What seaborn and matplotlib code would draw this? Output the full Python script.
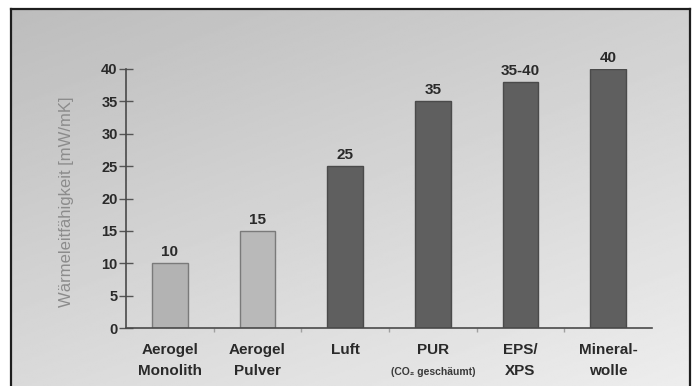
import numpy as np
import matplotlib
matplotlib.use("Agg")
import matplotlib.pyplot as plt
import seaborn as sns

# Thermal conductivity of insulation materials [mW/mK]
materials = ["Aerogel\nMonolith", "Aerogel\nPulver", "Luft", "PUR", "EPS/\nXPS", "Mineral-\nwolle"]
conductivity = [10, 15, 25, 35, 38, 40]
value_labels = ["10", "15", "25", "35", "35-40", "40"]
bar_colors = ["#b3b3b3", "#b9b9b9", "#5f5f5f", "#5f5f5f", "#5f5f5f", "#5f5f5f"]
edge_colors = ["#7a7a7a", "#7a7a7a", "#4a4a4a", "#4a4a4a", "#4a4a4a", "#4a4a4a"]
y_ticks = [0, 5, 10, 15, 20, 25, 30, 35, 40]
y_label = "Wärmeleitfähigkeit [mW/mK]"
pur_note = "(CO\u2082 geschäumt)"

sns.set_theme(style="white")
plt.rcParams["font.family"] = ["Liberation Sans", "DejaVu Sans"]

W, H = 697, 386
fig = plt.figure(figsize=(W / 100, H / 100), dpi=100)
fig.patch.set_facecolor("white")

# framed panel with a soft grey gradient
bg = fig.add_axes([11 / W, 0, (690 - 11) / W, (386 - 9) / H])
yy, xx = np.mgrid[0:1:200j, 0:1:300j]
grad = 0.74 + 0.19 * (0.4 * xx + 0.6 * yy)
bg.imshow(grad, cmap="gray", vmin=0, vmax=1, aspect="auto",
          extent=[0, 1, 0, 1], origin="upper")
bg.set_xticks([])
bg.set_yticks([])
for side in ["left", "top", "right"]:
    bg.spines[side].set_color("#1e1e1e")
    bg.spines[side].set_linewidth(1.6)
bg.spines["bottom"].set_visible(False)

# chart area
ax = fig.add_axes([126 / W, (H - 328) / H, (652 - 126) / W, (328 - 69) / H])
ax.set_facecolor("none")
sns.barplot(x=materials, y=conductivity, hue=materials, palette=bar_colors,
            legend=False, width=0.41, saturation=1, ax=ax)
for patch, ec in zip(ax.patches, edge_colors):
    patch.set_edgecolor(ec)
    patch.set_linewidth(1.0)

ax.set_ylim(0, 40)
ax.set_xlim(-0.5, 5.5)
ax.set_yticks(y_ticks)
ax.set_yticklabels([str(t) for t in y_ticks], fontsize=10.5, fontweight="bold", color="#2a2a2a")
ax.tick_params(axis="y", direction="inout", length=10, width=1, color="#555555", pad=1, left=True)
ax.tick_params(axis="x", length=0, pad=11)
ax.set_xticks(range(len(materials)))
ax.set_xticklabels(materials, fontsize=11, fontweight="bold", color="#2a2a2a", linespacing=1.6)
ax.set_xticks(np.arange(0.5, 5.5, 1.0), minor=True)
ax.tick_params(axis="x", which="minor", direction="out", length=3, color="#a0a0a0", bottom=True)
ax.set_xlabel("")
ax.set_ylabel("")
for side in ["top", "right"]:
    ax.spines[side].set_visible(False)
for side in ["left", "bottom"]:
    ax.spines[side].set_color("#4a4a4a")
    ax.spines[side].set_linewidth(1.2)

for i, (v, lab) in enumerate(zip(conductivity, value_labels)):
    ax.annotate(lab, (i, v), xytext=(0, 3), textcoords="offset points",
                ha="center", va="bottom", fontsize=11, fontweight="bold",
                color="#2a2a2a", annotation_clip=False)

# small note under the PUR label
ax.annotate(pur_note, (3, 0), xytext=(0, -32), textcoords="offset points",
            ha="center", va="center", fontsize=7.5, fontweight="bold",
            color="#3a3a3a", annotation_clip=False)

fig.text(66 / W, (H - 202) / H, y_label, rotation=90, ha="center", va="center",
         fontsize=12, color="#8c8c8c")

fig.savefig("out.png", dpi=100)
